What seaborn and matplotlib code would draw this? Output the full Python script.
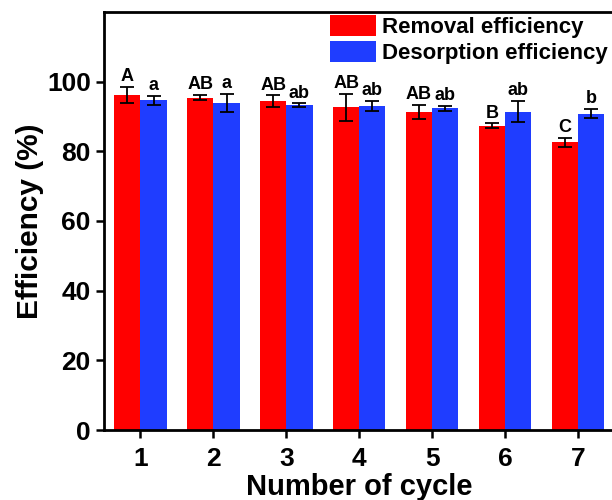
import numpy as np
import pandas as pd
import seaborn as sns
import matplotlib.pyplot as plt

cycles = ["1", "2", "3", "4", "5", "6", "7"]
removal = [96.2, 95.4, 94.4, 92.6, 91.3, 87.4, 82.6]
removal_err = [2.2, 0.8, 1.7, 3.9, 2.1, 0.6, 1.3]
desorption = [94.6, 94.0, 93.3, 93.0, 92.4, 91.4, 90.8]
desorption_err = [1.4, 2.6, 0.5, 1.5, 0.7, 3.1, 1.3]
removal_letters = ["A", "AB", "AB", "AB", "AB", "B", "C"]
desorption_letters = ["a", "a", "ab", "ab", "ab", "ab", "b"]
series = ["Removal efficiency", "Desorption efficiency"]

df = pd.DataFrame({
    "cycle": cycles * 2,
    "value": removal + desorption,
    "err": removal_err + desorption_err,
    "letter": removal_letters + desorption_letters,
    "series": [series[0]] * 7 + [series[1]] * 7,
})

sns.set_style("ticks")
plt.rcParams["font.family"] = ["Liberation Sans", "DejaVu Sans"]
plt.rcParams["font.weight"] = "bold"
for k in ["text.color", "axes.labelcolor", "xtick.color", "ytick.color", "axes.edgecolor"]:
    plt.rcParams[k] = "black"

fig = plt.figure(figsize=(6.12, 5), dpi=100)
ax = fig.add_axes([0.170, 0.14, 0.834, 0.836])

palette = {series[0]: "#ff0000", series[1]: "#1f3dff"}
sns.barplot(data=df, x="cycle", y="value", hue="series", palette=palette,
            width=0.72, gap=0, errorbar=None, saturation=1, ax=ax,
            edgecolor="none", linewidth=0)

# bars drawn in hue order: first 7 red, then 7 blue
bars = [p for p in ax.patches if p.get_height() > 0][:14]
for p, (_, row) in zip(bars, df.iterrows()):
    x = p.get_x() + p.get_width() / 2
    top = row["value"] + row["err"]
    ax.errorbar(x, row["value"], yerr=row["err"], fmt="none", ecolor="black",
                elinewidth=1.3, capsize=5, capthick=1.3)
    ax.text(x, top + 0.5, row["letter"], ha="center", va="bottom",
            fontsize=13, fontweight="bold")

ax.set_xlim(-0.5, 6.5)
ax.set_ylim(0, 120)
ax.set_yticks([0, 20, 40, 60, 80, 100])
ax.set_xlabel("Number of cycle", fontsize=21, fontweight="bold", labelpad=2)
ax.set_ylabel("Efficiency (%)", fontsize=21.5, fontweight="bold", labelpad=2)
ax.tick_params(axis="both", labelsize=19, width=1.8, length=6, direction="out")
ax.tick_params(axis="x", pad=6)
for lbl in ax.get_xticklabels() + ax.get_yticklabels():
    lbl.set_fontweight("bold")
for s in ax.spines.values():
    s.set_linewidth(2)
    s.set_visible(True)

leg = ax.legend(loc="upper left", bbox_to_anchor=(0.443, 0.993), frameon=False,
                fontsize=16, handlelength=2.05, handleheight=1.1,
                handletextpad=0.3, labelspacing=0.12, borderaxespad=0,
                borderpad=0)
for t in leg.get_texts():
    t.set_fontweight("bold")

fig.savefig("out.png", dpi=100)
